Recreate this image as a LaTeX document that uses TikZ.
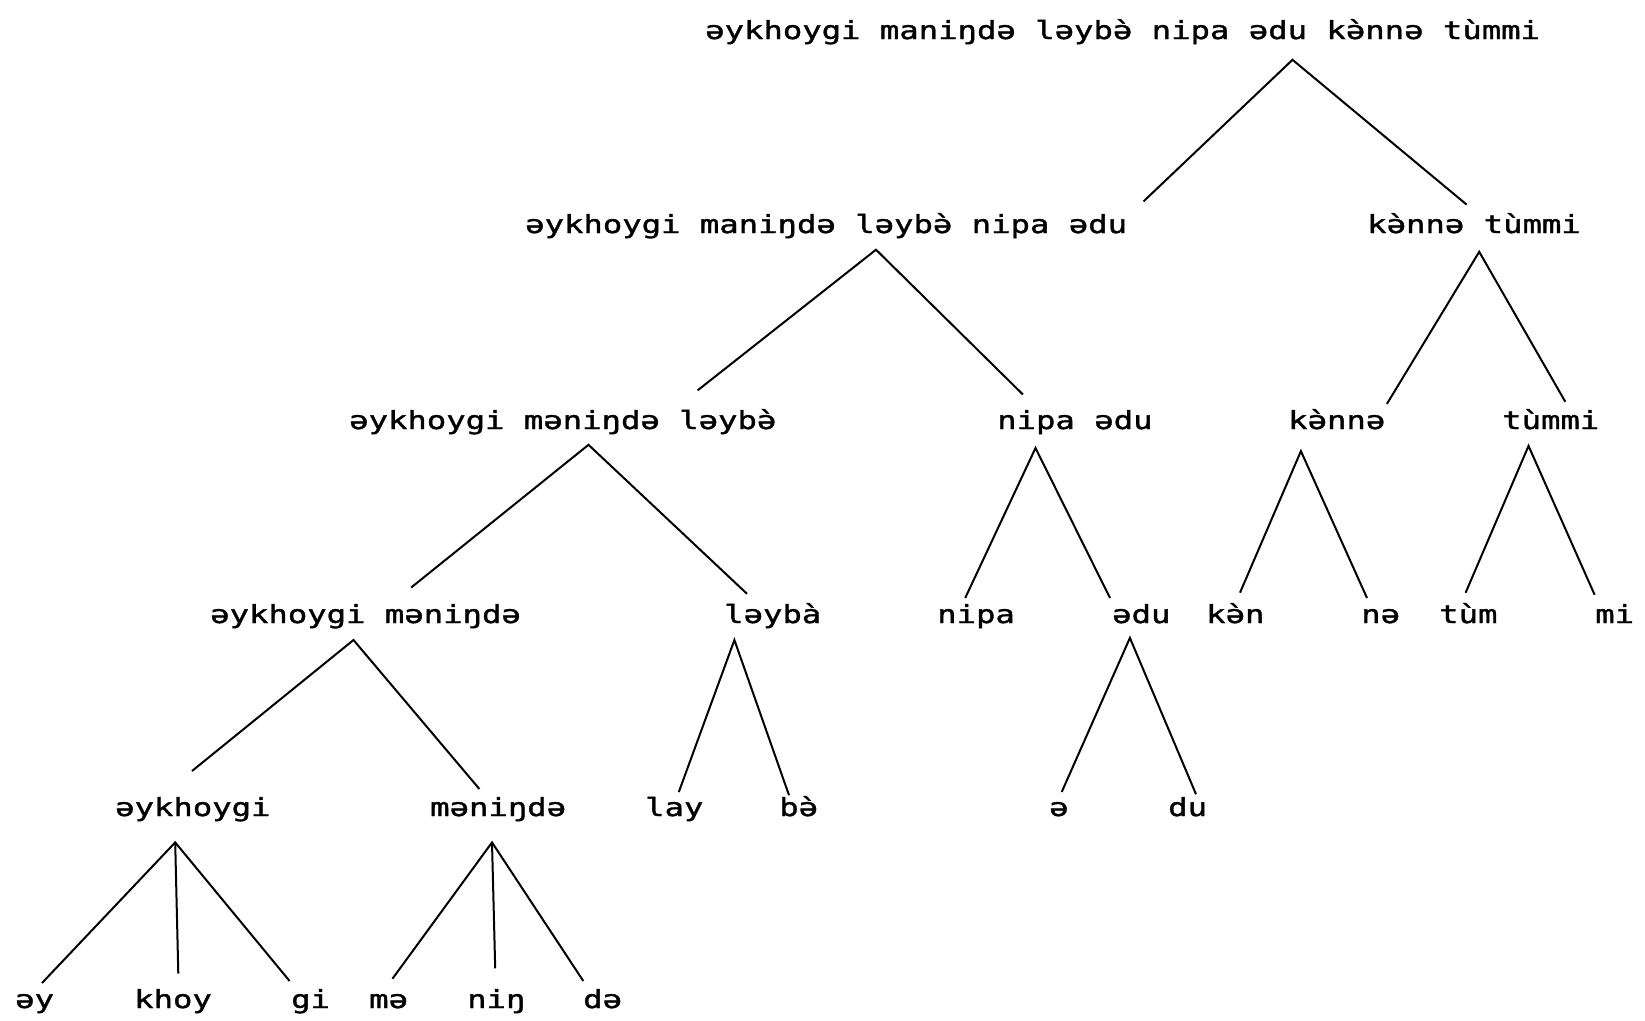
\documentclass[tikz,border=0pt]{standalone}
\usepackage{fontspec}
\setmonofont[FakeStretch=1.29,FakeBold=1.4]{DejaVu Sans Mono}
\usepackage{tikz}
\newcommand\gv{^^^^0300}

\begin{document}
\begin{tikzpicture}[x=1pt,y=-1pt,
  word/.style={anchor=base west,inner sep=0pt,font=\fontsize{25}{30}\selectfont\ttfamily},
  branch/.style={line width=2pt}]
\useasboundingbox (0,0) rectangle (1645,1020);

% whole sentence and its two halves
\node[word] (s) at (705,39) {əykhoygi maniŋdə ləybə\gv{} nipa ədu kə\gv nnə tùmmi};
\node[word] (s1) at (525,233) {əykhoygi maniŋdə ləybə\gv{} nipa ədu};
\node[word] (s2) at (1367,233) {kə\gv nnə tùmmi};

% third row
\node[word] (s11) at (349,429) {əykhoygi məniŋdə ləybə\gv};
\node[word] (s12) at (997,429) {nipa ədu};
\node[word] (s21) at (1288,429) {kə\gv nnə};
\node[word] (s22) at (1502,429) {tùmmi};

% fourth row
\node[word] (s111) at (210,623) {əykhoygi məniŋdə};
\node[word] (s112) at (724,623) {ləybà};
\node[word] (s121) at (937,623) {nipa};
\node[word] (s122) at (1112,623) {ədu};
\node[word] (s211) at (1206,623) {kə\gv n};
\node[word] (s212) at (1361,623) {nə};
\node[word] (s221) at (1439,623) {tùm};
\node[word] (s222) at (1595,623) {mi};

% fifth row
\node[word] (w1) at (115,816) {əykhoygi};
\node[word] (w2) at (430,816) {məniŋdə};
\node[word] (w3) at (645,816) {lay};
\node[word] (w4) at (779,816) {bə\gv};
\node[word] (w5) at (1049,816) {ə};
\node[word] (w6) at (1168,816) {du};

% syllables
\node[word] (y1) at (15,1008) {əy};
\node[word] (y2) at (134,1008) {khoy};
\node[word] (y3) at (291,1008) {gi};
\node[word] (y4) at (369,1008) {mə};
\node[word] (y5) at (467,1008) {niŋ};
\node[word] (y6) at (583,1008) {də};

% branches
\draw[branch] ([shift={(618.5,-31.6)}]s1.base west) -- ([shift={(587.5,20.8)}]s.base west) -- ([shift={(99.6,-28.4)}]s2.base west);
\draw[branch] ([shift={(348.7,-38.7)}]s11.base west) -- ([shift={(351,16.7)}]s1.base west) -- ([shift={(25.9,-34.5)}]s12.base west);
\draw[branch] ([shift={(98.9,-25.1)}]s21.base west) -- ([shift={(112.2,18.8)}]s2.base west) -- ([shift={(63.3,-27.2)}]s22.base west);

\draw[branch] ([shift={(201.2,-35.5)}]s111.base west) -- ([shift={(239.5,15.8)}]s11.base west) -- ([shift={(23,-29.2)}]s112.base west);
\draw[branch] ([shift={(28.2,-25)}]s121.base west) -- ([shift={(38.5,19)}]s12.base west) -- ([shift={(-2,-25)}]s122.base west);
\draw[branch] ([shift={(34,-30.3)}]s211.base west) -- ([shift={(12.9,22.1)}]s21.base west) -- ([shift={(6,-25)}]s212.base west);
\draw[branch] ([shift={(26.6,-30.3)}]s221.base west) -- ([shift={(26.5,16.9)}]s22.base west) -- ([shift={(-0.4,-28.2)}]s222.base west);

\draw[branch] ([shift={(77,-45)}]w1.base west) -- ([shift={(143.5,17)}]s111.base west) -- ([shift={(49.4,-27)}]w2.base west);
\draw[branch] ([shift={(33.8,-24)}]w3.base west) -- ([shift={(10.4,17)}]s112.base west) -- ([shift={(10,-20.8)}]w4.base west);
\draw[branch] ([shift={(12.7,-24)}]w5.base west) -- ([shift={(17.9,14.9)}]s122.base west) -- ([shift={(28,-21.8)}]w6.base west);

\draw[branch] ([shift={(27,-25)}]y1.base west) -- ([shift={(60.2,26.4)}]w1.base west) -- ([shift={(-1.4,-27)}]y3.base west);
\draw[branch] ([shift={(60.2,26.4)}]w1.base west) -- ([shift={(44.3,-34.4)}]y2.base west);
\draw[branch] ([shift={(23.4,-29.2)}]y4.base west) -- ([shift={(62,26.4)}]w2.base west) -- ([shift={(0.3,-27)}]y6.base west);
\draw[branch] ([shift={(62,26.4)}]w2.base west) -- ([shift={(28.2,-39.7)}]y5.base west);
\end{tikzpicture}
\end{document}
